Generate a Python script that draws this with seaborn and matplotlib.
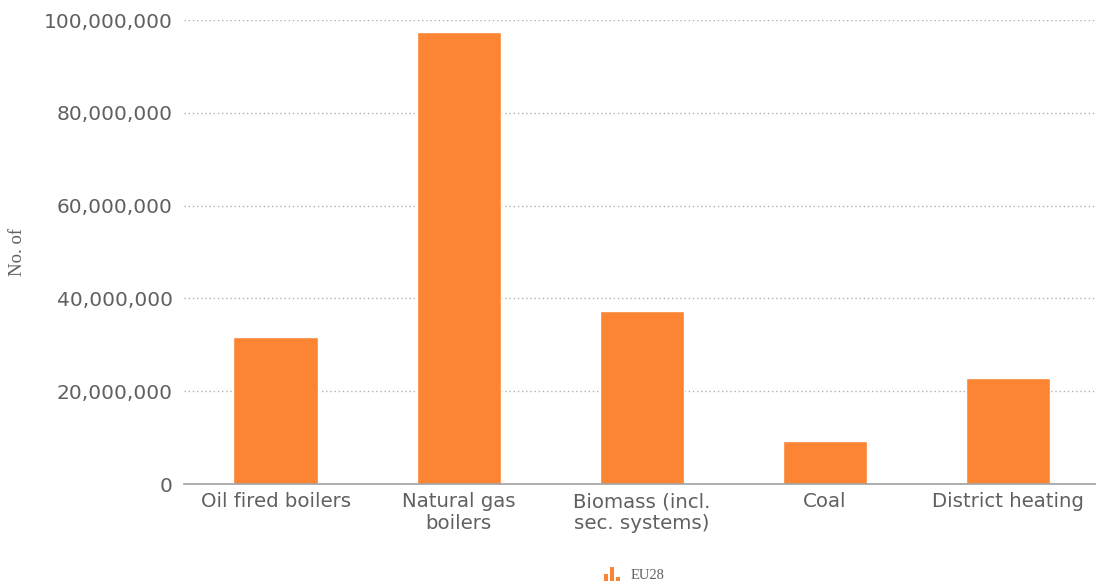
import matplotlib
matplotlib.use("Agg")
import matplotlib.pyplot as plt
import matplotlib.patches as mpatches
from matplotlib.legend_handler import HandlerBase
from matplotlib.ticker import FuncFormatter
import pandas as pd
import seaborn as sns

# Heating systems in EU28 dwellings
categories = ["Oil fired boilers", "Natural gas\nboilers", "Biomass (incl.\nsec. systems)",
              "Coal", "District heating"]
units = [31_700_000, 97_400_000, 37_300_000, 9_300_000, 22_800_000]
series_name = "EU28"
y_ticks = [0, 20_000_000, 40_000_000, 60_000_000, 80_000_000, 100_000_000]

ORANGE = "#fb8532"
TEXT = "#606060"

df = pd.DataFrame({"category": categories, "units": units, "series": series_name})

sns.set_theme(style="white")
plt.rcParams["font.family"] = ["DejaVu Sans"]

fig = plt.figure(figsize=(10.96, 5.86), dpi=100)
ax = fig.add_axes([184 / 1096, 102 / 586, 1 - 184 / 1096, (484 - 20) / 586])

sns.barplot(data=df, x="category", y="units", hue="series", palette=[ORANGE],
            width=0.46, saturation=1, legend=False, ax=ax)

ax.set_xlim(-0.5, 4.48)
ax.set_ylim(0, 100_000_000)
ax.set_yticks(y_ticks)
ax.yaxis.set_major_formatter(FuncFormatter(lambda v, _: f"{int(v):,}"))

ax.grid(axis="y", linestyle=(0, (1, 2)), color="#b0b0b0", linewidth=1.0)
ax.set_axisbelow(True)
for s in ["top", "right", "left"]:
    ax.spines[s].set_visible(False)
ax.spines["bottom"].set_color("#a0a0a0")
ax.spines["bottom"].set_linewidth(1.2)

ax.tick_params(axis="y", length=0, pad=8, labelsize=14.5, labelcolor=TEXT)
ax.tick_params(axis="x", length=0, pad=6, labelsize=14.2, labelcolor=TEXT)
ax.set_xlabel("")
ax.set_ylabel("")
fig.text(18 / 1096, 1 - 252 / 586, "No. of", rotation=90, ha="center", va="center",
         fontsize=13.5, color=TEXT, family=["Liberation Serif", "DejaVu Serif"])


class MiniBarsHandler(HandlerBase):
    """Small bar-chart glyph used as the legend key."""

    def create_artists(self, legend, orig_handle, xdescent, ydescent, width, height,
                       fontsize, trans):
        heights = [0.5, 1.0, 0.3]
        bw = width / 3.8
        gap = bw * 0.4
        arts = []
        for i, h in enumerate(heights):
            r = mpatches.Rectangle((xdescent + i * (bw + gap), ydescent - 2), bw, height * h,
                                   facecolor=ORANGE, edgecolor="none", transform=trans)
            arts.append(r)
        return arts


handle = mpatches.Patch(color=ORANGE, label=series_name)
leg = fig.legend(handles=[handle], labels=[series_name],
                 handler_map={mpatches.Patch: MiniBarsHandler()},
                 loc="center", bbox_to_anchor=(634 / 1096, 1 - 575 / 586), frameon=False,
                 handlelength=1.1, handleheight=1.0, handletextpad=0.7,
                 prop={"family": ["Liberation Serif", "DejaVu Serif"], "size": 10.5})
for t in leg.get_texts():
    t.set_color(TEXT)

fig.savefig("out.png", dpi=100)
